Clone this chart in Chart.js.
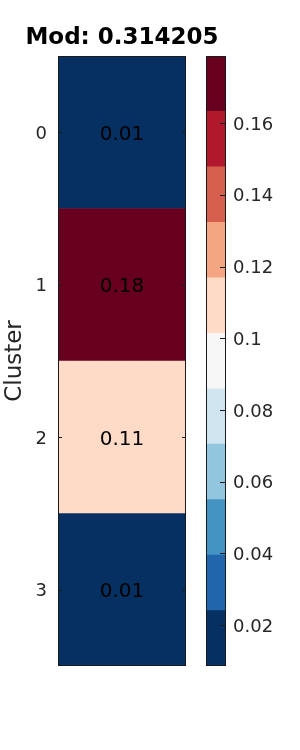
<!DOCTYPE html>
<html>
<head>
<meta charset="utf-8">
<script src="https://cdn.jsdelivr.net/npm/chart.js@4/dist/chart.umd.min.js"></script>
<style>
    body { margin: 0; background: #fff; width: 300px; height: 750px; overflow: hidden; position: relative; }
    canvas { position: absolute; top: 0; }
    #heatChart { left: 0; }
    #cbarChart { left: 186px; }
    #title {
        position: absolute; left: 22px; width: 200px; top: 24.5px;
        text-align: center; font: bold 23px/23px 'DejaVu Sans', sans-serif; color: #000;
        white-space: nowrap;
    }
</style>
</head>
<body>
<canvas id="heatChart" width="200" height="750"></canvas>
<canvas id="cbarChart" width="114" height="750"></canvas>
<div id="title"></div>
<script>
// data
const clusterLabels = ['0', '1', '2', '3'];
const clusterValues = [0.0086, 0.1787, 0.1102, 0.0090];
const colorbarTicks = [0.02, 0.04, 0.06, 0.08, 0.1, 0.12, 0.14, 0.16];
const titleText = 'Mod: 0.314205';

// RdBu_r, 11 steps (bottom to top)
const levelColors = ['#053061', '#2166ac', '#4393c3', '#92c5de', '#d1e5f0', '#f7f7f7',
    '#fddbc7', '#f4a582', '#d6604d', '#b2182b', '#67001f'];

const vmin = Math.min(...clusterValues);
const vmax = Math.max(...clusterValues);
const nLevels = levelColors.length;

function colorFor(v) {
    let i = Math.floor((v - vmin) / (vmax - vmin) * nLevels);
    if (i >= nLevels) i = nLevels - 1;
    if (i < 0) i = 0;
    return levelColors[i];
}

document.getElementById('title').textContent = titleText;

const FONT = "'DejaVu Sans', sans-serif";
const tickColor = '#262626';

// frame + inward ticks, shared by both charts
const framePlugin = {
    id: 'frame',
    afterDatasetsDraw(chart, args, opts) {
        const { ctx, chartArea: a } = chart;
        const scale = chart.scales[opts.axis];
        ctx.save();
        ctx.strokeStyle = '#1a1a1a';
        ctx.lineWidth = 1;
        ctx.beginPath();
        scale.ticks.forEach(t => {
            const y = Math.round(scale.getPixelForValue(t.value)) + 0.5;
            if (opts.left) {
                ctx.moveTo(a.left, y);
                ctx.lineTo(a.left + opts.len, y);
            }
            ctx.moveTo(a.right, y);
            ctx.lineTo(a.right - opts.len, y);
        });
        ctx.stroke();
        ctx.strokeRect(Math.round(a.left) + 0.5, Math.round(a.top) + 0.5,
            Math.round(a.right - a.left) - 1, Math.round(a.bottom - a.top) - 1);
        ctx.restore();
    }
};

// value text in each cell
const annotPlugin = {
    id: 'annot',
    afterDatasetsDraw(chart) {
        const { ctx } = chart;
        const meta = chart.getDatasetMeta(0);
        ctx.save();
        ctx.font = '20px ' + FONT;
        ctx.fillStyle = '#000';
        ctx.textAlign = 'center';
        ctx.textBaseline = 'middle';
        meta.data.forEach((bar, i) => {
            const x = (bar.base + bar.x) / 2;
            ctx.fillText(clusterValues[i].toFixed(2), x, bar.y + 2.5);
        });
        ctx.restore();
    }
};

new Chart(document.getElementById('heatChart'), {
    type: 'bar',
    data: {
        labels: clusterLabels,
        datasets: [{
            data: clusterValues.map(() => 1),
            backgroundColor: clusterValues.map(colorFor),
            barPercentage: 1,
            categoryPercentage: 1,
            borderWidth: 0
        }]
    },
    options: {
        indexAxis: 'y',
        responsive: false,
        animation: false,
        devicePixelRatio: 1,
        events: [],
        layout: { padding: { top: 56, right: 14, bottom: 84, left: 0 } },
        plugins: {
            legend: { display: false },
            tooltip: { enabled: false },
            title: { display: false },
            frame: { axis: 'y', left: true, len: 4 }
        },
        scales: {
            x: { display: false, min: 0, max: 1 },
            y: {
                grid: { display: false, drawTicks: false },
                border: { display: false },
                ticks: { color: tickColor, padding: 11, labelOffset: 2, font: { family: FONT, size: 18 } },
                title: {
                    display: true,
                    text: 'Cluster',
                    color: tickColor,
                    font: { family: FONT, size: 23 },
                    padding: 1
                },
                afterFit(scale) { scale.width = 58; }
            }
        }
    },
    plugins: [annotPlugin, framePlugin]
});

// colorbar: one floating bar per level
const levelStep = (vmax - vmin) / nLevels;
new Chart(document.getElementById('cbarChart'), {
    type: 'bar',
    data: {
        labels: ['cb'],
        datasets: levelColors.map((c, i) => ({
            data: [[vmin + i * levelStep, vmin + (i + 1) * levelStep]],
            backgroundColor: c,
            barPercentage: 1,
            categoryPercentage: 1,
            borderWidth: 0
        }))
    },
    options: {
        responsive: false,
        animation: false,
        devicePixelRatio: 1,
        events: [],
        layout: { padding: { top: 56, right: 0, bottom: 84, left: 20 } },
        plugins: {
            legend: { display: false },
            tooltip: { enabled: false },
            frame: { axis: 'y', left: false, len: 6 }
        },
        scales: {
            x: { display: false, stacked: true },
            y: {
                position: 'right',
                stacked: false,
                min: vmin,
                max: vmax,
                grid: { display: false, drawTicks: false },
                border: { display: false },
                afterBuildTicks(scale) {
                    scale.ticks = colorbarTicks.map(v => ({ value: v }));
                },
                ticks: {
                    color: tickColor,
                    padding: 7,
                    labelOffset: 2,
                    font: { family: FONT, size: 18 },
                    callback: v => String(Number(v.toFixed(2)))
                },
                afterFit(scale) { scale.width = 74; }
            }
        }
    },
    plugins: [framePlugin]
});
</script>
</body>
</html>
